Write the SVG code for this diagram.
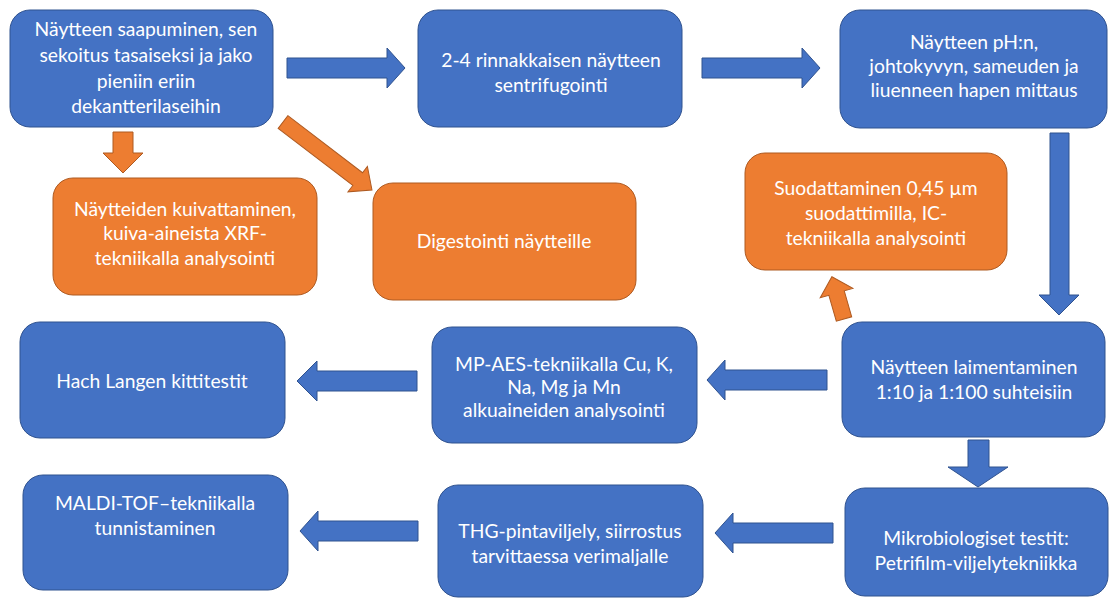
<svg xmlns="http://www.w3.org/2000/svg" width="1111" height="599" viewBox="0 0 1111 599">
<style>
.b{fill:#4472C4;stroke:#2F528F;stroke-width:1}
.o{fill:#ED7D31;stroke:#AE5A21;stroke-width:1}
.t{fill:#fff;font-family:Lato,"Open Sans","Liberation Sans",sans-serif;font-size:19.3px;text-anchor:middle}
</style>
<rect width="1111" height="599" fill="#fff"/>
<g id="connectors">
<polygon class="b" points="287,58 387,58 387,48 405,68 387,88 387,78 287,78"/>
<polygon class="b" points="702,58 802,58 802,48 820,68 802,88 802,78 702,78"/>
<polygon class="b" points="1050,133 1069,133 1069,295 1079,295 1059,315 1039,295 1050,295"/>
<polygon class="b" points="968,440 989,440 989,467 1008,467 978,487 948,467 968,467"/>
<polygon class="b" points="417,371 317,371 317,361 297,381 317,401 317,391 417,391"/>
<polygon class="b" points="827,370 725,370 725,360 707,380 725,400 725,390 827,390"/>
<polygon class="b" points="418,521 318,521 318,511 300,531 318,551 318,541 418,541"/>
<polygon class="b" points="833,523 733,523 733,513 715,533 733,553 733,543 833,543"/>
<polygon class="o" points="113,132 133,132 133,153 143,153 123,173 103,153 113,153"/>
<polygon class="o" transform="translate(283,122) rotate(37.4)" points="0,-8 94,-8 94,-16 112,0 94,16 94,8 0,8"/>
<polygon class="o" transform="translate(844,319) rotate(-106)" points="0,-8 27,-8 27,-17 44,0 27,17 27,8 0,8"/>
</g>
<g id="n1"><rect class="b" x="10" y="10" width="263" height="117" rx="20"/>
<text class="t"><tspan x="146" y="36">Näytteen saapuminen, sen</tspan><tspan x="146" y="62">sekoitus tasaiseksi ja jako</tspan><tspan x="146" y="88">pieniin eriin</tspan><tspan x="146" y="113">dekantterilaseihin</tspan></text></g>
<g id="n2"><rect class="b" x="418" y="10" width="264" height="117" rx="20"/>
<text class="t"><tspan x="551" y="67">2-4 rinnakkaisen näytteen</tspan><tspan x="551" y="92">sentrifugointi</tspan></text></g>
<g id="n3"><rect class="b" x="840" y="10" width="267" height="118" rx="20"/>
<text class="t"><tspan x="974" y="49">Näytteen pH:n,</tspan><tspan x="974" y="73">johtokyvyn, sameuden ja</tspan><tspan x="974" y="97">liuenneen hapen mittaus</tspan></text></g>
<g id="n4"><rect class="o" x="745" y="153" width="262" height="117" rx="20"/>
<text class="t"><tspan x="876" y="195">Suodattaminen 0,45 µm</tspan><tspan x="876" y="220">suodattimilla, IC-</tspan><tspan x="876" y="245">tekniikalla analysointi</tspan></text></g>
<g id="n5"><rect class="o" x="53" y="178" width="264" height="117" rx="20"/>
<text class="t"><tspan x="185" y="216">Näytteiden kuivattaminen,</tspan><tspan x="185" y="240">kuiva-aineista XRF-</tspan><tspan x="185" y="265">tekniikalla analysointi</tspan></text></g>
<g id="n6"><rect class="o" x="373" y="183" width="263" height="117" rx="20"/>
<text class="t" x="504" y="248">Digestointi näytteille</text></g>
<g id="n7"><rect class="b" x="20" y="322" width="265" height="116" rx="20"/>
<text class="t" x="152" y="388">Hach Langen kittitestit</text></g>
<g id="n8"><rect class="b" x="432" y="327" width="265" height="116" rx="20"/>
<text class="t"><tspan x="564" y="371">MP-AES-tekniikalla Cu, K,</tspan><tspan x="564" y="394">Na, Mg ja Mn</tspan><tspan x="564" y="417">alkuaineiden analysointi</tspan></text></g>
<g id="n9"><rect class="b" x="842" y="322" width="263" height="115" rx="20"/>
<text class="t"><tspan x="974" y="374">Näytteen laimentaminen</tspan><tspan x="974" y="399">1:10 ja 1:100 suhteisiin</tspan></text></g>
<g id="n10"><rect class="b" x="23" y="475" width="265" height="115" rx="20"/>
<text class="t"><tspan x="155" y="510">MALDI-TOF–tekniikalla</tspan><tspan x="155" y="535">tunnistaminen</tspan></text></g>
<g id="n11"><rect class="b" x="438" y="485" width="265" height="112" rx="20"/>
<text class="t"><tspan x="570" y="538">THG-pintaviljely, siirrostus</tspan><tspan x="570" y="563">tarvittaessa verimaljalle</tspan></text></g>
<g id="n12"><rect class="b" x="845" y="488" width="263" height="108" rx="20"/>
<text class="t"><tspan x="976" y="545">Mikrobiologiset testit:</tspan><tspan x="976" y="570">Petrifilm-viljelytekniikka</tspan></text></g>
</svg>
